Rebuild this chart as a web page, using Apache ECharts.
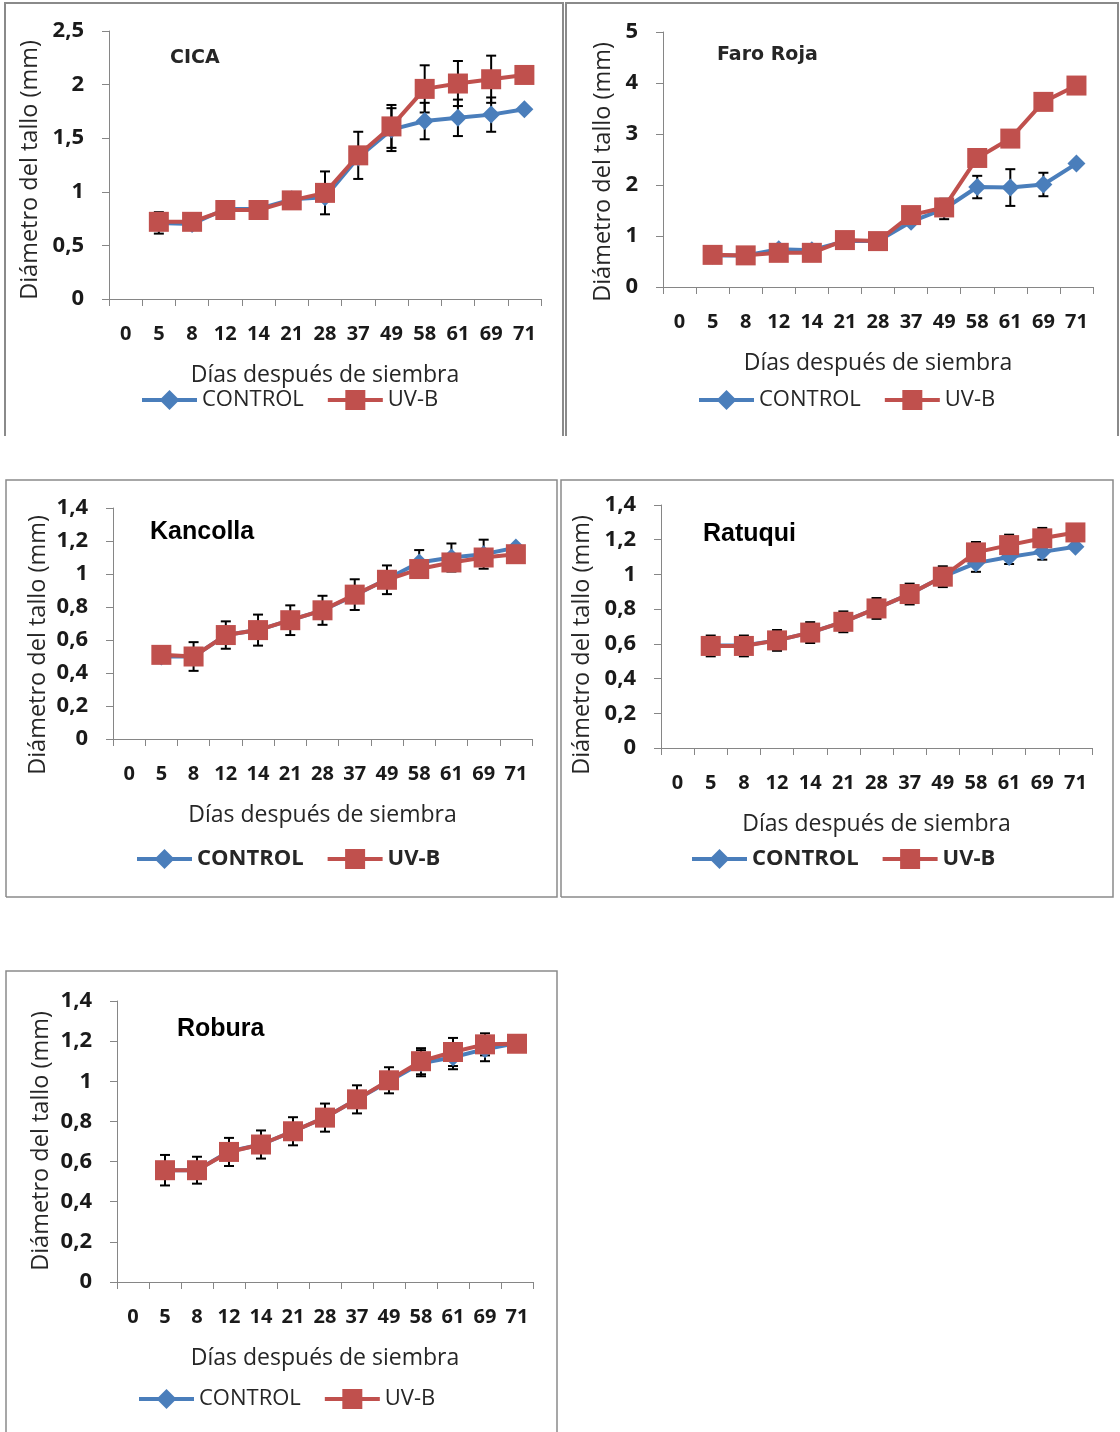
<!DOCTYPE html>
<html>
<head>
<meta charset="utf-8">
<script src="https://cdn.jsdelivr.net/npm/echarts@6/dist/echarts.min.js"></script>
<style>
  html, body { margin: 0; padding: 0; background: #fff; }
  #chart { width: 1120px; height: 1432px; }
</style>
</head>
<body>
<div id="chart"></div>
<script>
// categorias del eje x (dias despues de siembra); "0" no tiene datos
const dias = ['0', '5', '8', '12', '14', '21', '28', '37', '49', '58', '61', '69', '71'];

// valores para 5, 8, 12, 14, 21, 28, 37, 49, 58, 61, 69, 71 dias
const cicaControl    = [0.71, 0.70, 0.84, 0.84, 0.93, 0.95, 1.32, 1.58, 1.66, 1.69, 1.72, 1.77];
const cicaUvb        = [0.72, 0.72, 0.83, 0.83, 0.92, 0.99, 1.34, 1.61, 1.96, 2.01, 2.05, 2.09];
const cicaControlErr = [0.10, 0, 0, 0, 0, 0, 0, 0.20, 0.17, 0.17, 0.16, 0];
const cicaUvbErr     = [0, 0, 0, 0, 0, 0.20, 0.22, 0.20, 0.22, 0.21, 0.22, 0];

const faroControl    = [0.62, 0.62, 0.74, 0.72, 0.90, 0.90, 1.28, 1.53, 1.96, 1.95, 2.01, 2.42];
const faroUvb        = [0.63, 0.62, 0.67, 0.67, 0.92, 0.90, 1.41, 1.56, 2.53, 2.91, 3.63, 3.95];
const faroControlErr = [0, 0, 0, 0, 0, 0, 0, 0.20, 0.22, 0.36, 0.23, 0];
const faroUvbErr     = [0, 0, 0, 0, 0, 0, 0, 0, 0, 0, 0, 0];

const kanControl     = [0.50, 0.50, 0.63, 0.66, 0.72, 0.78, 0.87, 0.97, 1.07, 1.10, 1.12, 1.16];
const kanUvb         = [0.51, 0.50, 0.63, 0.66, 0.72, 0.78, 0.875, 0.965, 1.03, 1.07, 1.10, 1.12];
const kanControlErr  = [0, 0, 0, 0, 0, 0, 0, 0, 0.075, 0.085, 0.088, 0];
const kanUvbErr      = [0, 0.087, 0.083, 0.094, 0.09, 0.088, 0.093, 0.087, 0, 0, 0, 0];

const ratControl     = [0.59, 0.59, 0.62, 0.665, 0.727, 0.804, 0.887, 0.987, 1.065, 1.10, 1.13, 1.16];
const ratUvb         = [0.588, 0.588, 0.62, 0.665, 0.727, 0.804, 0.887, 0.987, 1.127, 1.169, 1.208, 1.242];
const ratControlErr  = [0, 0, 0, 0, 0, 0, 0, 0, 0.05, 0.04, 0.045, 0];
const ratUvbErr      = [0.06, 0.06, 0.06, 0.06, 0.06, 0.06, 0.06, 0.06, 0.06, 0.06, 0.06, 0];

const robControl     = [0.557, 0.557, 0.65, 0.685, 0.75, 0.82, 0.91, 1.0, 1.09, 1.12, 1.16, 1.19];
const robUvb         = [0.557, 0.557, 0.648, 0.685, 0.751, 0.819, 0.91, 1.005, 1.10, 1.146, 1.184, 1.187];
const robControlErr  = [0, 0, 0, 0, 0, 0, 0, 0, 0.065, 0.06, 0.06, 0];
const robUvbErr      = [0.076, 0.067, 0.07, 0.07, 0.07, 0.07, 0.07, 0.065, 0.065, 0.07, 0.055, 0];

const panels = [
  { title: 'CICA', control: cicaControl, uvb: cicaUvb, cErr: cicaControlErr, uErr: cicaUvbErr, max: 2.5, step: 0.5 },
  { title: 'Faro Roja', control: faroControl, uvb: faroUvb, cErr: faroControlErr, uErr: faroUvbErr, max: 5, step: 1 },
  { title: 'Kancolla', control: kanControl, uvb: kanUvb, cErr: kanControlErr, uErr: kanUvbErr, max: 1.4, step: 0.2 },
  { title: 'Ratuqui', control: ratControl, uvb: ratUvb, cErr: ratControlErr, uErr: ratUvbErr, max: 1.4, step: 0.2 },
  { title: 'Robura', control: robControl, uvb: robUvb, cErr: robControlErr, uErr: robUvbErr, max: 1.4, step: 0.2 }
];

// layout of each panel, in pixels
const layout = [
  { grid: [109, 31, 432, 268], title: [170, 57], yName: [30, 170], legend: [140, 399], box: [5, 3, 563, 436], open: true, small: true, boldLegend: false },
  { grid: [663, 32, 430, 255], title: [717, 54], yName: [603, 172], legend: [697, 399], box: [566, 3, 1118, 436], open: true, small: true, boldLegend: false },
  { grid: [113, 508, 419, 231], title: [150, 531], yName: [38, 645], legend: [135, 858], box: [6, 480, 557, 897], open: false, small: false, boldLegend: true },
  { grid: [661, 505, 431, 243], title: [703, 533], yName: [582, 645], legend: [690, 858], box: [561, 480, 1113, 897], open: false, small: false, boldLegend: true },
  { grid: [117, 1001, 416, 281], title: [177, 1028], yName: [41, 1141], legend: [137, 1398], box: [6, 971, 557, 1432], open: true, small: false, boldLegend: false }
];

const BLUE = '#4a7ebb';
const RED = '#c0504d';
const AXIS = '#868686';
const FONT = 'Open Sans';

function errorBar(params, api) {
  const err = api.value(2);
  if (!err) return null;
  const x = api.value(0), y = api.value(1);
  const hi = api.coord([x, y + err]);
  const lo = api.coord([x, y - err]);
  const cap = 5;
  const style = { stroke: '#000', lineWidth: 2 };
  return {
    type: 'group',
    children: [
      { type: 'line', shape: { x1: hi[0], y1: hi[1], x2: lo[0], y2: lo[1] }, style },
      { type: 'line', shape: { x1: hi[0] - cap, y1: hi[1], x2: hi[0] + cap, y2: hi[1] }, style },
      { type: 'line', shape: { x1: lo[0] - cap, y1: lo[1], x2: lo[0] + cap, y2: lo[1] }, style }
    ]
  };
}

const comma = v => (Math.round(v * 10) / 10).toString().replace('.', ',');

const grids = [], xAxes = [], yAxes = [], series = [], titles = [], legends = [], graphics = [];

panels.forEach((p, i) => {
  const L = layout[i];
  grids.push({ left: L.grid[0], top: L.grid[1], width: L.grid[2], height: L.grid[3] });

  xAxes.push({
    type: 'category', gridIndex: i, data: dias, boundaryGap: true,
    name: 'Días después de siembra', nameLocation: 'middle', nameGap: 76,
    nameTextStyle: { fontFamily: FONT, fontSize: 23, color: '#262626', verticalAlign: 'middle' },
    axisLine: { lineStyle: { color: AXIS, width: 1 } },
    axisTick: { show: true, length: 7, lineStyle: { color: AXIS } },
    axisLabel: { interval: 0, margin: 35, verticalAlign: 'middle', fontFamily: FONT, fontSize: 20, fontWeight: 'bold', color: '#1a1a1a' },
    splitLine: { show: false }
  });

  yAxes.push({
    type: 'value', gridIndex: i, min: 0, max: p.max, interval: p.step,
    axisLine: { show: true, lineStyle: { color: AXIS, width: 1 } },
    axisTick: { show: true, length: 7, lineStyle: { color: AXIS } },
    axisLabel: { margin: 25, fontFamily: FONT, fontSize: 22, fontWeight: 'bold', color: '#1a1a1a', formatter: comma },
    splitLine: { show: false }
  });

  series.push({
    name: 'CONTROL', type: 'line', xAxisIndex: i, yAxisIndex: i,
    data: [null, ...p.control],
    symbol: 'diamond', symbolSize: 18,
    itemStyle: { color: BLUE },
    lineStyle: { color: BLUE, width: 4 },
    z: 3
  });
  series.push({
    name: 'UV-B', type: 'line', xAxisIndex: i, yAxisIndex: i,
    data: [null, ...p.uvb],
    symbol: 'rect', symbolSize: 20,
    itemStyle: { color: RED },
    lineStyle: { color: RED, width: 4 },
    z: 4
  });
  series.push({
    name: 'err-control', type: 'custom', xAxisIndex: i, yAxisIndex: i,
    renderItem: errorBar, encode: { x: 0, y: 1 }, z: 2, silent: true,
    data: p.control.map((v, k) => [k + 1, v, p.cErr[k]])
  });
  series.push({
    name: 'err-uvb', type: 'custom', xAxisIndex: i, yAxisIndex: i,
    renderItem: errorBar, encode: { x: 0, y: 1 }, z: 2, silent: true,
    data: p.uvb.map((v, k) => [k + 1, v, p.uErr[k]])
  });

  titles.push({
    text: p.title, left: L.title[0], top: L.title[1] - (L.small ? 8 : 11), padding: 0,
    textStyle: L.small
      ? { fontFamily: 'DejaVu Sans', fontSize: 19, fontWeight: 'bold', color: '#262626' }
      : { fontFamily: 'Liberation Sans', fontSize: 25, fontWeight: 'bold', color: '#000' }
  });

  legends.push({
    data: ['CONTROL', 'UV-B'], left: L.legend[0], top: L.legend[1] - 10, padding: 0,
    itemWidth: 55, itemHeight: 25, itemGap: 22, selectedMode: false,
    lineStyle: { width: 4 },
    textStyle: { fontFamily: FONT, fontSize: 22, color: '#262626', fontWeight: L.boldLegend ? 'bold' : 'normal' }
  });

  graphics.push({
    type: 'text', x: L.yName[0], y: L.yName[1], rotation: Math.PI / 2,
    style: { text: 'Diámetro del tallo (mm)', fontFamily: FONT, fontSize: 23.5, fill: '#262626', align: 'center', verticalAlign: 'middle' }
  });

  const [x1, y1, x2, y2] = L.box;
  const pts = L.open
    ? [[x1, y2], [x1, y1], [x2, y1], [x2, y2]]
    : [[x1, y2], [x1, y1], [x2, y1], [x2, y2], [x1, y2]];
  graphics.push({
    type: 'polyline', shape: { points: pts }, silent: true,
    style: { stroke: '#8a8a8a', lineWidth: L.small ? 2 : 1.5, fill: null }
  });
});

const chart = echarts.init(document.getElementById('chart'));
chart.setOption({
  animation: false,
  backgroundColor: '#fff',
  title: titles,
  legend: legends,
  grid: grids,
  xAxis: xAxes,
  yAxis: yAxes,
  series: series,
  graphic: graphics
});
</script>
</body>
</html>
